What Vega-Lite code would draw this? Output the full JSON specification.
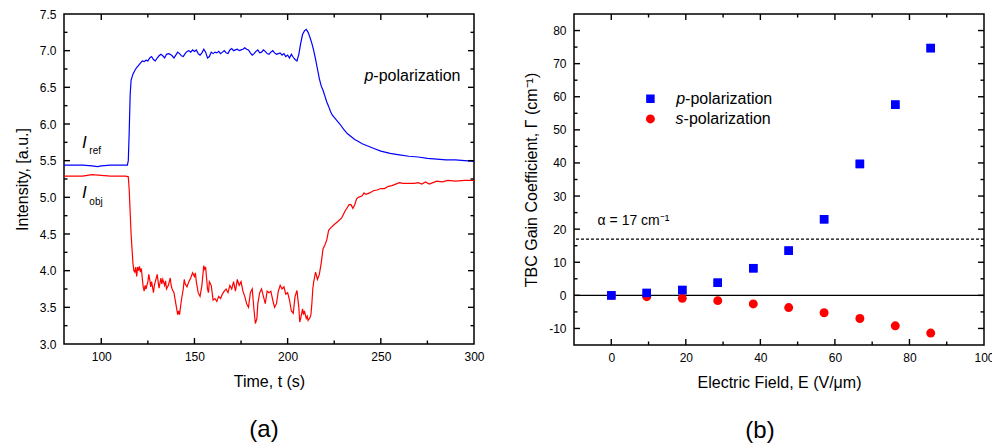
{
  "$schema": "https://vega.github.io/schema/vega-lite/v6.json",
  "padding": {"left": 13, "top": 7, "right": 0, "bottom": 0},
  "spacing": 100,
  "bounds": "flush",
  "config": {
    "font": "Liberation Sans",
    "view": {"stroke": "black", "strokeWidth": 1.5},
    "axis": {
      "grid": false,
      "domain": false,
      "ticks": false,
      "tickSize": 0,
      "labelColor": "black",
      "labelFontSize": 12,
      "labelFont": "Liberation Sans",
      "titleFont": "Liberation Sans",
      "titleFontSize": 16,
      "titleFontWeight": "normal",
      "titleColor": "black",
      "labelFlush": false,
      "labelOverlap": false
    },
    "title": {"font": "Liberation Sans", "fontWeight": "normal", "color": "black"}
  },
  "datasets": {
    "iref": [
      {"t":80,"v":5.44},{"t":85,"v":5.44},{"t":90,"v":5.44},{"t":95,"v":5.43},{"t":98,"v":5.42},{"t":100,"v":5.43},{"t":105,"v":5.44},{"t":110,"v":5.44},{"t":114,"v":5.44},{"t":114.5,"v":5.5},{"t":115,"v":5.9},{"t":115.5,"v":6.4},{"t":116,"v":6.6},{"t":117,"v":6.68},{"t":118,"v":6.73},{"t":119,"v":6.77},{"t":120,"v":6.8},{"t":121,"v":6.83},{"t":122,"v":6.86},{"t":123,"v":6.85},{"t":124,"v":6.87},{"t":125,"v":6.86},{"t":126,"v":6.9},{"t":127,"v":6.92},{"t":128,"v":6.88},{"t":129,"v":6.86},{"t":130,"v":6.9},{"t":131,"v":6.93},{"t":132,"v":6.95},{"t":133,"v":6.93},{"t":134,"v":6.9},{"t":135,"v":6.95},{"t":136,"v":6.96},{"t":137,"v":6.95},{"t":138,"v":6.93},{"t":139,"v":6.9},{"t":140,"v":6.94},{"t":141,"v":6.98},{"t":142,"v":6.96},{"t":143,"v":6.93},{"t":144,"v":6.92},{"t":145,"v":6.96},{"t":146,"v":6.99},{"t":147,"v":7.0},{"t":148,"v":6.98},{"t":149,"v":7.01},{"t":150,"v":6.99},{"t":151,"v":7.01},{"t":152,"v":6.96},{"t":153,"v":6.94},{"t":154,"v":6.97},{"t":155,"v":7.02},{"t":156,"v":6.98},{"t":157,"v":6.9},{"t":158,"v":6.92},{"t":159,"v":6.98},{"t":160,"v":6.96},{"t":161,"v":6.98},{"t":162,"v":6.97},{"t":163,"v":6.99},{"t":164,"v":6.96},{"t":165,"v":6.98},{"t":166,"v":7.0},{"t":167,"v":6.97},{"t":168,"v":6.96},{"t":169,"v":7.01},{"t":170,"v":7.03},{"t":171,"v":7.0},{"t":172,"v":7.01},{"t":173,"v":7.02},{"t":174,"v":7.0},{"t":175,"v":7.01},{"t":176,"v":7.02},{"t":177,"v":7.04},{"t":178,"v":7.02},{"t":179,"v":7.01},{"t":180,"v":6.97},{"t":181,"v":6.94},{"t":182,"v":6.96},{"t":183,"v":6.99},{"t":184,"v":7.01},{"t":185,"v":6.97},{"t":186,"v":6.98},{"t":187,"v":7.01},{"t":188,"v":6.99},{"t":189,"v":6.96},{"t":190,"v":6.95},{"t":191,"v":6.98},{"t":192,"v":7.0},{"t":193,"v":6.97},{"t":194,"v":6.95},{"t":195,"v":6.96},{"t":196,"v":6.97},{"t":197,"v":6.94},{"t":198,"v":6.96},{"t":199,"v":6.92},{"t":200,"v":6.94},{"t":201,"v":6.9},{"t":202,"v":6.95},{"t":203,"v":6.91},{"t":204,"v":6.88},{"t":205,"v":6.86},{"t":206,"v":6.95},{"t":207,"v":7.1},{"t":208,"v":7.22},{"t":209,"v":7.27},{"t":210,"v":7.29},{"t":211,"v":7.25},{"t":212,"v":7.18},{"t":213,"v":7.1},{"t":214,"v":7.0},{"t":215,"v":6.88},{"t":216,"v":6.75},{"t":217,"v":6.62},{"t":218,"v":6.52},{"t":219,"v":6.46},{"t":220,"v":6.38},{"t":221,"v":6.3},{"t":222,"v":6.24},{"t":223,"v":6.17},{"t":224,"v":6.12},{"t":226,"v":6.06},{"t":228,"v":6.0},{"t":230,"v":5.93},{"t":232,"v":5.87},{"t":234,"v":5.83},{"t":236,"v":5.79},{"t":238,"v":5.76},{"t":240,"v":5.73},{"t":243,"v":5.7},{"t":246,"v":5.67},{"t":250,"v":5.63},{"t":255,"v":5.6},{"t":260,"v":5.58},{"t":265,"v":5.56},{"t":270,"v":5.55},{"t":275,"v":5.53},{"t":280,"v":5.52},{"t":285,"v":5.51},{"t":290,"v":5.51},{"t":295,"v":5.5},{"t":300,"v":5.49}
    ],
    "iobj": [
      {"t":80,"v":5.29},{"t":85,"v":5.29},{"t":90,"v":5.29},{"t":95,"v":5.31},{"t":100,"v":5.3},{"t":105,"v":5.29},{"t":110,"v":5.29},{"t":113,"v":5.29},{"t":114.5,"v":5.28},{"t":115,"v":5.1},{"t":115.5,"v":4.8},{"t":116,"v":4.5},{"t":116.5,"v":4.3},{"t":117,"v":4.1},{"t":117.5,"v":4.0},{"t":118,"v":3.98},{"t":118.5,"v":4.05},{"t":119,"v":3.92},{"t":119.5,"v":4.05},{"t":120,"v":4.0},{"t":120.5,"v":4.06},{"t":121,"v":3.98},{"t":121.5,"v":4.03},{"t":122,"v":3.9},{"t":122.5,"v":3.78},{"t":123,"v":3.72},{"t":123.5,"v":3.8},{"t":124,"v":3.75},{"t":125,"v":3.85},{"t":125.5,"v":3.95},{"t":126,"v":3.88},{"t":126.5,"v":3.78},{"t":127,"v":3.85},{"t":128,"v":3.7},{"t":128.5,"v":3.8},{"t":129,"v":3.85},{"t":130,"v":3.95},{"t":130.5,"v":3.85},{"t":131,"v":3.76},{"t":132,"v":3.9},{"t":132.5,"v":3.82},{"t":133,"v":3.88},{"t":134,"v":3.8},{"t":134.5,"v":3.86},{"t":135,"v":3.75},{"t":136,"v":3.8},{"t":137,"v":3.9},{"t":137.5,"v":3.8},{"t":138,"v":3.75},{"t":139,"v":3.7},{"t":140,"v":3.55},{"t":141,"v":3.4},{"t":141.5,"v":3.45},{"t":142,"v":3.4},{"t":143,"v":3.6},{"t":144,"v":3.75},{"t":144.5,"v":3.88},{"t":145,"v":3.82},{"t":146,"v":3.78},{"t":147,"v":3.85},{"t":148,"v":3.9},{"t":149,"v":3.97},{"t":150,"v":3.92},{"t":150.5,"v":3.97},{"t":151,"v":3.85},{"t":152,"v":3.7},{"t":153,"v":3.65},{"t":154,"v":3.8},{"t":155,"v":4.07},{"t":155.5,"v":4.02},{"t":156,"v":4.05},{"t":156.5,"v":3.9},{"t":157,"v":3.75},{"t":157.5,"v":3.7},{"t":158,"v":3.85},{"t":159,"v":3.8},{"t":160,"v":3.6},{"t":161,"v":3.62},{"t":162,"v":3.58},{"t":163,"v":3.65},{"t":164,"v":3.62},{"t":165,"v":3.68},{"t":166,"v":3.72},{"t":167,"v":3.75},{"t":168,"v":3.7},{"t":169,"v":3.8},{"t":170,"v":3.75},{"t":171,"v":3.85},{"t":172,"v":3.72},{"t":173,"v":3.88},{"t":174,"v":3.8},{"t":175,"v":3.85},{"t":176,"v":3.72},{"t":177,"v":3.65},{"t":178,"v":3.55},{"t":179,"v":3.5},{"t":180,"v":3.7},{"t":181,"v":3.75},{"t":182,"v":3.45},{"t":182.7,"v":3.28},{"t":183.5,"v":3.35},{"t":184,"v":3.55},{"t":185,"v":3.7},{"t":186,"v":3.75},{"t":187,"v":3.65},{"t":188,"v":3.55},{"t":189,"v":3.72},{"t":190,"v":3.7},{"t":191,"v":3.72},{"t":192,"v":3.6},{"t":193,"v":3.5},{"t":194,"v":3.55},{"t":195,"v":3.72},{"t":196,"v":3.8},{"t":197,"v":3.75},{"t":198,"v":3.78},{"t":199,"v":3.68},{"t":200,"v":3.7},{"t":201,"v":3.6},{"t":202,"v":3.45},{"t":203,"v":3.42},{"t":204,"v":3.65},{"t":205,"v":3.73},{"t":206,"v":3.5},{"t":206.5,"v":3.3},{"t":207,"v":3.35},{"t":208,"v":3.48},{"t":208.5,"v":3.4},{"t":209,"v":3.45},{"t":210,"v":3.35},{"t":210.5,"v":3.38},{"t":211,"v":3.32},{"t":212,"v":3.36},{"t":212.5,"v":3.4},{"t":213,"v":3.55},{"t":213.5,"v":3.75},{"t":214,"v":3.85},{"t":215,"v":3.98},{"t":216,"v":3.88},{"t":217,"v":3.95},{"t":218,"v":4.1},{"t":219,"v":4.3},{"t":220,"v":4.35},{"t":221,"v":4.42},{"t":222,"v":4.55},{"t":223,"v":4.58},{"t":225,"v":4.63},{"t":227,"v":4.67},{"t":229,"v":4.72},{"t":231,"v":4.82},{"t":233,"v":4.9},{"t":234,"v":4.9},{"t":235,"v":4.85},{"t":236,"v":4.9},{"t":237,"v":4.98},{"t":238,"v":5.0},{"t":240,"v":5.02},{"t":241,"v":5.06},{"t":242,"v":5.04},{"t":244,"v":5.06},{"t":246,"v":5.09},{"t":248,"v":5.1},{"t":250,"v":5.12},{"t":252,"v":5.12},{"t":254,"v":5.15},{"t":256,"v":5.16},{"t":258,"v":5.18},{"t":260,"v":5.2},{"t":262,"v":5.19},{"t":265,"v":5.19},{"t":268,"v":5.19},{"t":270,"v":5.2},{"t":272,"v":5.18},{"t":274,"v":5.21},{"t":276,"v":5.18},{"t":278,"v":5.2},{"t":280,"v":5.22},{"t":283,"v":5.21},{"t":286,"v":5.23},{"t":290,"v":5.22},{"t":295,"v":5.23},{"t":300,"v":5.23}
    ],
    "gain": [
      {"E":0,"G":0,"pol":"p"},{"E":9.52,"G":0.7,"pol":"p"},{"E":19.05,"G":1.6,"pol":"p"},{"E":28.57,"G":3.8,"pol":"p"},{"E":38.1,"G":8.2,"pol":"p"},{"E":47.6,"G":13.5,"pol":"p"},{"E":57.1,"G":23.0,"pol":"p"},{"E":66.7,"G":39.7,"pol":"p"},{"E":76.2,"G":57.6,"pol":"p"},{"E":85.7,"G":74.7,"pol":"p"},
      {"E":0,"G":0,"pol":"s"},{"E":9.52,"G":-0.4,"pol":"s"},{"E":19.05,"G":-0.9,"pol":"s"},{"E":28.57,"G":-1.6,"pol":"s"},{"E":38.1,"G":-2.6,"pol":"s"},{"E":47.6,"G":-3.7,"pol":"s"},{"E":57.1,"G":-5.25,"pol":"s"},{"E":66.7,"G":-7.0,"pol":"s"},{"E":76.2,"G":-9.2,"pol":"s"},{"E":85.7,"G":-11.4,"pol":"s"}
    ],
    "tickA_x": [
      {"val":100,"k":"major"},{"val":125,"k":"minor"},{"val":150,"k":"major"},{"val":175,"k":"minor"},{"val":200,"k":"major"},{"val":225,"k":"minor"},{"val":250,"k":"major"},{"val":275,"k":"minor"}
    ],
    "tickA_y": [
      {"val":3.25,"k":"minor"},{"val":3.5,"k":"major"},{"val":3.75,"k":"minor"},{"val":4.0,"k":"major"},{"val":4.25,"k":"minor"},{"val":4.5,"k":"major"},{"val":4.75,"k":"minor"},{"val":5.0,"k":"major"},{"val":5.25,"k":"minor"},{"val":5.5,"k":"major"},{"val":5.75,"k":"minor"},{"val":6.0,"k":"major"},{"val":6.25,"k":"minor"},{"val":6.5,"k":"major"},{"val":6.75,"k":"minor"},{"val":7.0,"k":"major"},{"val":7.25,"k":"minor"}
    ],
    "tickB_x": [
      {"val":0,"k":"major"},{"val":10,"k":"minor"},{"val":20,"k":"major"},{"val":30,"k":"minor"},{"val":40,"k":"major"},{"val":50,"k":"minor"},{"val":60,"k":"major"},{"val":70,"k":"minor"},{"val":80,"k":"major"},{"val":90,"k":"minor"}
    ],
    "tickB_y": [
      {"val":-10,"k":"major"},{"val":-5,"k":"minor"},{"val":0,"k":"major"},{"val":5,"k":"minor"},{"val":10,"k":"major"},{"val":15,"k":"minor"},{"val":20,"k":"major"},{"val":25,"k":"minor"},{"val":30,"k":"major"},{"val":35,"k":"minor"},{"val":40,"k":"major"},{"val":45,"k":"minor"},{"val":50,"k":"major"},{"val":55,"k":"minor"},{"val":60,"k":"major"},{"val":65,"k":"minor"},{"val":70,"k":"major"},{"val":75,"k":"minor"},{"val":80,"k":"major"}
    ],
    "one": [{}]
  },
  "hconcat": [
    {
      "width": 410,
      "height": 330,
      "title": {"text": "(a)", "orient": "bottom", "fontSize": 24, "offset": 29, "dx": -5},
      "resolve": {"axis": {"x": "independent", "y": "independent"}},
      "layer": [
        {
          "data": {"name": "iobj"},
          "mark": {"type": "line", "color": "#FF0000", "strokeWidth": 1.2},
          "encoding": {
            "x": {"field": "t", "type": "quantitative", "scale": {"domain": [80, 300], "nice": false, "zero": false},
              "axis": {"orient": "bottom", "values": [100,150,200,250,300], "labelPadding": 7, "title": "Time, t (s)", "titlePadding": 11}},
            "y": {"field": "v", "type": "quantitative", "scale": {"domain": [3, 7.5], "nice": false, "zero": false},
              "axis": {"orient": "left", "values": [3,3.5,4,4.5,5,5.5,6,6.5,7,7.5], "format": ".1f", "labelPadding": 8, "title": "Intensity, [a.u.]", "titlePadding": 9}}
          }
        },
        {
          "data": {"name": "iref"},
          "mark": {"type": "line", "color": "#0000FF", "strokeWidth": 1.2},
          "encoding": {
            "x": {"field": "t", "type": "quantitative", "axis": null},
            "y": {"field": "v", "type": "quantitative", "axis": null}
          }
        },
        {
          "data": {"name": "tickA_x"},
          "mark": {"type": "tick", "orient": "vertical", "thickness": 1.4, "color": "black", "opacity": 1, "clip": true},
          "encoding": {
            "x": {"field": "val", "type": "quantitative", "axis": null},
            "y": {"datum": 3, "type": "quantitative", "axis": null},
            "size": {"field": "k", "type": "nominal", "scale": {"domain": ["major", "minor"], "range": [12, 7]}, "legend": null}
          }
        },
        {
          "data": {"name": "tickA_x"},
          "mark": {"type": "tick", "orient": "vertical", "thickness": 1.4, "color": "black", "opacity": 1, "clip": true},
          "encoding": {
            "x": {"field": "val", "type": "quantitative", "axis": null},
            "y": {"datum": 7.5, "type": "quantitative", "axis": null},
            "size": {"field": "k", "type": "nominal", "scale": {"domain": ["major", "minor"], "range": [12, 7]}, "legend": null}
          }
        },
        {
          "data": {"name": "tickA_y"},
          "mark": {"type": "tick", "orient": "horizontal", "thickness": 1.4, "color": "black", "opacity": 1, "clip": true},
          "encoding": {
            "y": {"field": "val", "type": "quantitative", "axis": null},
            "x": {"datum": 80, "type": "quantitative", "axis": null},
            "size": {"field": "k", "type": "nominal", "scale": {"domain": ["major", "minor"], "range": [12, 7]}, "legend": null}
          }
        },
        {
          "data": {"name": "tickA_y"},
          "mark": {"type": "tick", "orient": "horizontal", "thickness": 1.4, "color": "black", "opacity": 1, "clip": true},
          "encoding": {
            "y": {"field": "val", "type": "quantitative", "axis": null},
            "x": {"datum": 300, "type": "quantitative", "axis": null},
            "size": {"field": "k", "type": "nominal", "scale": {"domain": ["major", "minor"], "range": [12, 7]}, "legend": null}
          }
        },
        {
          "data": {"name": "one"},
          "mark": {"type": "text", "text": "p", "fontStyle": "italic", "fontSize": 16, "align": "right", "baseline": "middle", "color": "black"},
          "encoding": {"x": {"datum": 246.0, "type": "quantitative", "axis": null}, "y": {"datum": 6.65, "type": "quantitative", "axis": null}}
        },
        {
          "data": {"name": "one"},
          "mark": {"type": "text", "text": "-polarization", "fontSize": 16, "align": "left", "baseline": "middle", "color": "black"},
          "encoding": {"x": {"datum": 246.0, "type": "quantitative", "axis": null}, "y": {"datum": 6.65, "type": "quantitative", "axis": null}}
        },
        {
          "data": {"name": "one"},
          "mark": {"type": "text", "text": "I", "fontStyle": "italic", "fontSize": 17, "align": "center", "baseline": "middle", "color": "black"},
          "encoding": {"x": {"datum": 90.9, "type": "quantitative", "axis": null}, "y": {"datum": 5.74, "type": "quantitative", "axis": null}}
        },
        {
          "data": {"name": "one"},
          "mark": {"type": "text", "text": "ref", "fontSize": 10, "align": "left", "baseline": "middle", "color": "black"},
          "encoding": {"x": {"datum": 93.6, "type": "quantitative", "axis": null}, "y": {"datum": 5.635, "type": "quantitative", "axis": null}}
        },
        {
          "data": {"name": "one"},
          "mark": {"type": "text", "text": "I", "fontStyle": "italic", "fontSize": 17, "align": "center", "baseline": "middle", "color": "black"},
          "encoding": {"x": {"datum": 90.9, "type": "quantitative", "axis": null}, "y": {"datum": 5.063, "type": "quantitative", "axis": null}}
        },
        {
          "data": {"name": "one"},
          "mark": {"type": "text", "text": "obj", "fontSize": 10, "align": "left", "baseline": "middle", "color": "black"},
          "encoding": {"x": {"datum": 93.6, "type": "quantitative", "axis": null}, "y": {"datum": 4.94, "type": "quantitative", "axis": null}}
        }
      ]
    },
    {
      "width": 410,
      "height": 331,
      "title": {"text": "(b)", "orient": "bottom", "fontSize": 24, "offset": 29, "dx": -19},
      "resolve": {"axis": {"x": "independent", "y": "independent"}},
      "layer": [
        {
          "data": {"name": "gain"},
          "transform": [{"filter": "datum.pol === 'p'"}],
          "mark": {"type": "square", "filled": true, "size": 72, "color": "#0000FF", "opacity": 1},
          "encoding": {
            "x": {"field": "E", "type": "quantitative", "scale": {"domain": [-10, 100], "nice": false, "zero": false},
              "axis": {"orient": "bottom", "values": [0,20,40,60,80,100], "labelPadding": 7, "title": "Electric Field, E (V/μm)", "titlePadding": 11}},
            "y": {"field": "G", "type": "quantitative", "scale": {"domain": [-15, 85], "nice": false, "zero": false},
              "axis": {"orient": "left", "values": [-10,0,10,20,30,40,50,60,70,80], "labelExpr": "'' + datum.value", "labelPadding": 8, "title": "TBC Gain Coefficient, Γ (cm⁻¹)", "titlePadding": 9}}
          }
        },
        {
          "data": {"name": "one"},
          "mark": {"type": "rule", "color": "black", "strokeWidth": 1.2},
          "encoding": {"y": {"datum": 0, "type": "quantitative", "axis": null}}
        },
        {
          "data": {"name": "one"},
          "mark": {"type": "rule", "color": "black", "strokeWidth": 1.2, "strokeDash": [3, 2]},
          "encoding": {"y": {"datum": 17, "type": "quantitative", "axis": null}}
        },
        {
          "data": {"name": "gain"},
          "transform": [{"filter": "datum.pol === 's'"}],
          "mark": {"type": "circle", "size": 80, "color": "#FF0000", "opacity": 1},
          "encoding": {
            "x": {"field": "E", "type": "quantitative", "axis": null},
            "y": {"field": "G", "type": "quantitative", "axis": null}
          }
        },
        {
          "data": {"name": "gain"},
          "transform": [{"filter": "datum.pol === 'p'"}],
          "mark": {"type": "square", "filled": true, "size": 72, "color": "#0000FF", "opacity": 1},
          "encoding": {
            "x": {"field": "E", "type": "quantitative", "axis": null},
            "y": {"field": "G", "type": "quantitative", "axis": null}
          }
        },
        {
          "data": {"name": "tickB_x"},
          "mark": {"type": "tick", "orient": "vertical", "thickness": 1.4, "color": "black", "opacity": 1, "clip": true},
          "encoding": {
            "x": {"field": "val", "type": "quantitative", "axis": null},
            "y": {"datum": -15, "type": "quantitative", "axis": null},
            "size": {"field": "k", "type": "nominal", "scale": {"domain": ["major", "minor"], "range": [12, 7]}, "legend": null}
          }
        },
        {
          "data": {"name": "tickB_x"},
          "mark": {"type": "tick", "orient": "vertical", "thickness": 1.4, "color": "black", "opacity": 1, "clip": true},
          "encoding": {
            "x": {"field": "val", "type": "quantitative", "axis": null},
            "y": {"datum": 85, "type": "quantitative", "axis": null},
            "size": {"field": "k", "type": "nominal", "scale": {"domain": ["major", "minor"], "range": [12, 7]}, "legend": null}
          }
        },
        {
          "data": {"name": "tickB_y"},
          "mark": {"type": "tick", "orient": "horizontal", "thickness": 1.4, "color": "black", "opacity": 1, "clip": true},
          "encoding": {
            "y": {"field": "val", "type": "quantitative", "axis": null},
            "x": {"datum": -10, "type": "quantitative", "axis": null},
            "size": {"field": "k", "type": "nominal", "scale": {"domain": ["major", "minor"], "range": [12, 7]}, "legend": null}
          }
        },
        {
          "data": {"name": "tickB_y"},
          "mark": {"type": "tick", "orient": "horizontal", "thickness": 1.4, "color": "black", "opacity": 1, "clip": true},
          "encoding": {
            "y": {"field": "val", "type": "quantitative", "axis": null},
            "x": {"datum": 100, "type": "quantitative", "axis": null},
            "size": {"field": "k", "type": "nominal", "scale": {"domain": ["major", "minor"], "range": [12, 7]}, "legend": null}
          }
        },
        {
          "data": {"name": "one"},
          "mark": {"type": "square", "filled": true, "size": 72, "color": "#0000FF", "opacity": 1},
          "encoding": {"x": {"datum": 10.5, "type": "quantitative", "axis": null}, "y": {"datum": 59.4, "type": "quantitative", "axis": null}}
        },
        {
          "data": {"name": "one"},
          "mark": {"type": "circle", "size": 80, "color": "#FF0000", "opacity": 1},
          "encoding": {"x": {"datum": 10.5, "type": "quantitative", "axis": null}, "y": {"datum": 53.3, "type": "quantitative", "axis": null}}
        },
        {
          "data": {"name": "one"},
          "mark": {"type": "text", "text": "p", "fontStyle": "italic", "fontSize": 16, "align": "right", "baseline": "middle", "color": "black"},
          "encoding": {"x": {"datum": 19.8, "type": "quantitative", "axis": null}, "y": {"datum": 59.4, "type": "quantitative", "axis": null}}
        },
        {
          "data": {"name": "one"},
          "mark": {"type": "text", "text": "-polarization", "fontSize": 16, "align": "left", "baseline": "middle", "color": "black"},
          "encoding": {"x": {"datum": 19.8, "type": "quantitative", "axis": null}, "y": {"datum": 59.4, "type": "quantitative", "axis": null}}
        },
        {
          "data": {"name": "one"},
          "mark": {"type": "text", "text": "s", "fontStyle": "italic", "fontSize": 16, "align": "right", "baseline": "middle", "color": "black"},
          "encoding": {"x": {"datum": 19.4, "type": "quantitative", "axis": null}, "y": {"datum": 53.3, "type": "quantitative", "axis": null}}
        },
        {
          "data": {"name": "one"},
          "mark": {"type": "text", "text": "-polarization", "fontSize": 16, "align": "left", "baseline": "middle", "color": "black"},
          "encoding": {"x": {"datum": 19.4, "type": "quantitative", "axis": null}, "y": {"datum": 53.3, "type": "quantitative", "axis": null}}
        },
        {
          "data": {"name": "one"},
          "mark": {"type": "text", "text": "α = 17 cm⁻¹", "fontSize": 14, "align": "left", "baseline": "middle", "color": "black"},
          "encoding": {"x": {"datum": -3.67, "type": "quantitative", "axis": null}, "y": {"datum": 22.5, "type": "quantitative", "axis": null}}
        }
      ]
    }
  ]
}
